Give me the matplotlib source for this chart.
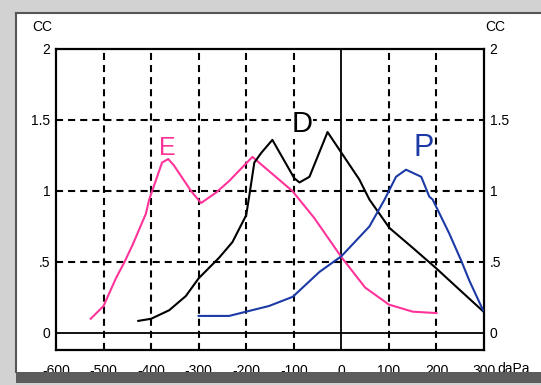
import matplotlib
matplotlib.use("Agg")
import matplotlib.pyplot as plt
from matplotlib.patches import Rectangle
from matplotlib.lines import Line2D

plt.rcParams["font.family"] = ["Liberation Sans", "DejaVu Sans"]

# ── data ────────────────────────────────────────────────────────────────────
e_x = [-527, -500, -474, -456, -439, -411, -404, -377, -364, -352, -316, -295,
       -263, -236, -187, -173, -103, -57, 0, 50, 100, 150, 200]
e_y = [0.10, 0.19, 0.385, 0.50, 0.62, 0.84, 0.94, 1.20, 1.225, 1.18, 1.00, 0.915,
       0.99, 1.07, 1.24, 1.20, 1.00, 0.81, 0.535, 0.32, 0.20, 0.15, 0.14]

d_x = [-427, -400, -362, -327, -300, -257, -229, -200, -192, -183, -168, -145,
       -99, -88, -67, -29, -4, 38, 59, 101, 150, 198, 250, 299]
d_y = [0.085, 0.10, 0.16, 0.26, 0.385, 0.53, 0.64, 0.83, 1.00, 1.20, 1.27, 1.36,
       1.09, 1.06, 1.10, 1.415, 1.29, 1.08, 0.94, 0.74, 0.60, 0.46, 0.30, 0.15]

p_x = [-300, -236, -200, -152, -102, -46, 0, 59, 91, 115, 136, 168, 185, 192,
       227, 252, 269, 298]
p_y = [0.12, 0.12, 0.15, 0.19, 0.255, 0.43, 0.54, 0.75, 0.94, 1.10, 1.15, 1.10,
       0.96, 0.94, 0.70, 0.51, 0.37, 0.16]

x_ticks = [-600, -500, -400, -300, -200, -100, 0, 100, 200, 300]
x_labels = ["-600", "-500", "-400", "-300", "-200", "-100", "0", "100", "200", "300"]
y_ticks = [0, 0.5, 1, 1.5, 2]
y_labels = ["0", ".5", "1", "1.5", "2"]

PINK = "#ff3399"
BLUE = "#1c3aa6"

fig = plt.figure(figsize=(5.41, 3.85), dpi=100, facecolor="#d2d2d2")

# window-like frame
fig.patches.append(Rectangle((17 / 541, 13 / 385), 1 - 17 / 541, 359 / 385,
                             transform=fig.transFigure, facecolor="white",
                             edgecolor="none", zorder=-2))
fig.lines.append(Line2D([16 / 541, 16 / 541], [13 / 385, 372 / 385],
                        transform=fig.transFigure, color="#555555", lw=1.5, zorder=-1))
fig.lines.append(Line2D([16 / 541, 1], [372 / 385, 372 / 385],
                        transform=fig.transFigure, color="#555555", lw=1.5, zorder=-1))
fig.patches.append(Rectangle((16 / 541, 2 / 385), 1, 11 / 385,
                             transform=fig.transFigure, facecolor="#5c5c5c",
                             edgecolor="none", zorder=5))

ax = fig.add_axes([56 / 541, 35 / 385, 428 / 541, 301 / 385])
ax.set_xlim(-600, 300)
ax.set_ylim(-0.12, 2)

grid_kw = dict(color="black", lw=1.5, dashes=(3.4, 2.4), zorder=1)
for gx in [-500, -400, -300, -200, -100, 100, 200]:
    ax.axvline(gx, **grid_kw)
for gy in [0.5, 1, 1.5]:
    ax.axhline(gy, **grid_kw)
ax.axvline(0, color="black", lw=1.3, zorder=1)
ax.axhline(0, color="black", lw=1.3, zorder=1)

ax.plot(e_x, e_y, color=PINK, lw=1.5, zorder=3)
ax.plot(d_x, d_y, color="black", lw=1.5, zorder=3)
ax.plot(p_x, p_y, color=BLUE, lw=1.5, zorder=3)

lbl_box = dict(facecolor="white", edgecolor="none", pad=0.5)
ax.text(-366, 1.30, "E", color=PINK, fontsize=18, ha="center", va="center")
ax.text(-82, 1.47, "D", color="black", fontsize=21, ha="center", va="center",
        bbox=lbl_box, zorder=4)
ax.text(173, 1.30, "P", color=BLUE, fontsize=22, ha="center", va="center",
        bbox=lbl_box, zorder=4)

ax.set_xticks(x_ticks)
ax.set_xticklabels(x_labels)
ax.set_yticks(y_ticks)
ax.set_yticklabels(y_labels)
ax.tick_params(axis="both", length=0, labelsize=10)
ax.tick_params(axis="x", pad=10)
ax.tick_params(axis="y", pad=4, labelright=True)
for s in ax.spines.values():
    s.set_linewidth(1.6)

fig.text(32 / 541, 1 - 27 / 385, "CC", fontsize=10, va="center", ha="left")
fig.text(485 / 541, 1 - 27 / 385, "CC", fontsize=10, va="center", ha="left")
fig.text(497 / 541, 1 - 369 / 385, "daPa", fontsize=10, va="center", ha="left")

fig.savefig("out.png", dpi=100, facecolor=fig.get_facecolor())
